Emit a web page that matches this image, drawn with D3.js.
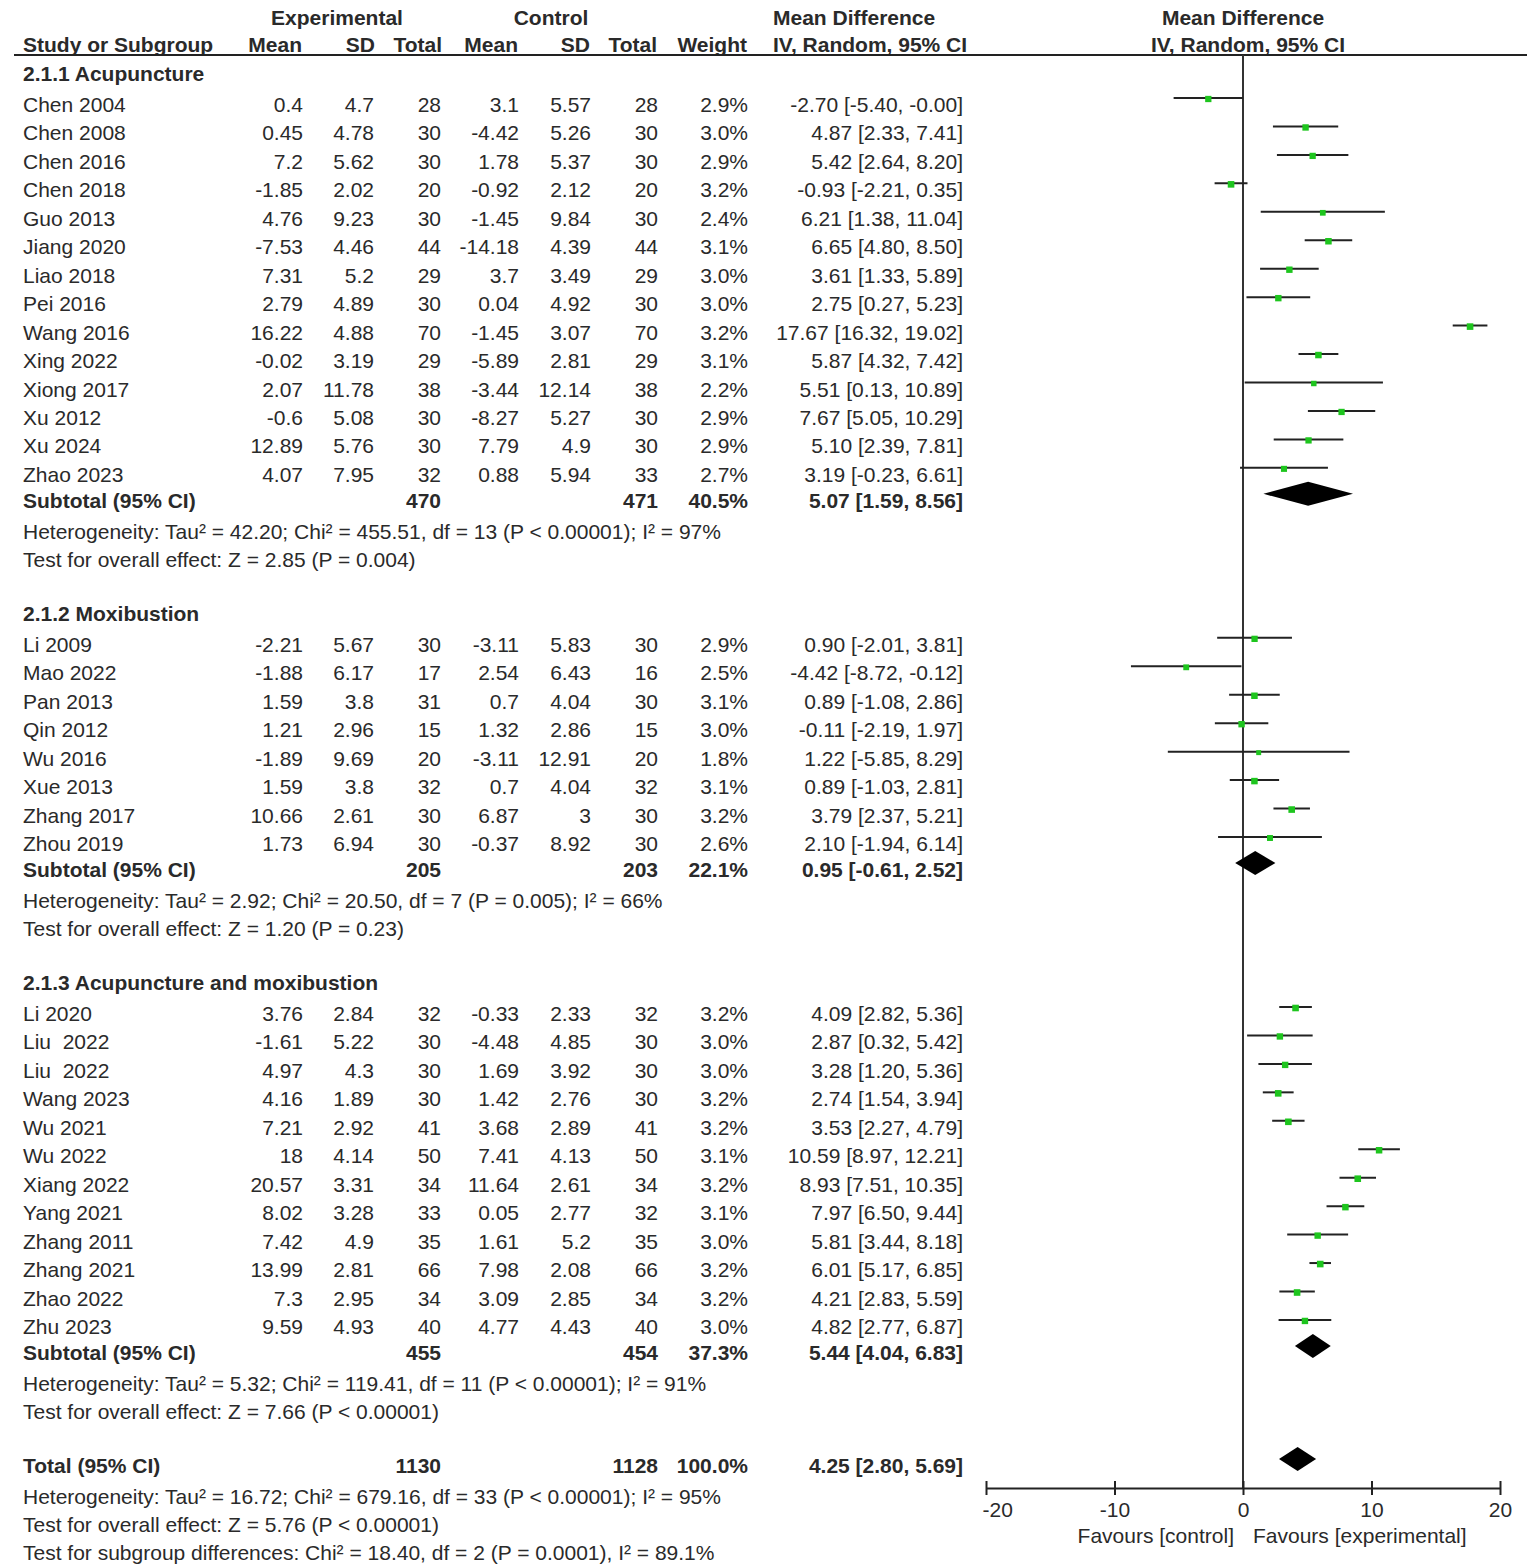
<!DOCTYPE html>
<html>
<head>
<meta charset="utf-8">
<script src="https://cdn.jsdelivr.net/npm/d3@7"></script>
<style>
  body { margin: 0; background: #fff; }
  svg text { font-family: Arial, "Liberation Sans", sans-serif; font-size: 21px; fill: #2a2a2a; white-space: pre; }
  svg text.b { font-weight: bold; }
</style>
</head>
<body>
<svg id="chart" width="1535" height="1568"></svg>
<script>
// study, exp mean, exp sd, exp n, ctl mean, ctl sd, ctl n, weight %, MD, lower, upper
var acupuncture = [
  ['Chen 2004', 0.4, 4.7, 28, 3.1, 5.57, 28, 2.9, -2.70, -5.40, -0.00],
  ['Chen 2008', 0.45, 4.78, 30, -4.42, 5.26, 30, 3.0, 4.87, 2.33, 7.41],
  ['Chen 2016', 7.2, 5.62, 30, 1.78, 5.37, 30, 2.9, 5.42, 2.64, 8.20],
  ['Chen 2018', -1.85, 2.02, 20, -0.92, 2.12, 20, 3.2, -0.93, -2.21, 0.35],
  ['Guo 2013', 4.76, 9.23, 30, -1.45, 9.84, 30, 2.4, 6.21, 1.38, 11.04],
  ['Jiang 2020', -7.53, 4.46, 44, -14.18, 4.39, 44, 3.1, 6.65, 4.80, 8.50],
  ['Liao 2018', 7.31, 5.2, 29, 3.7, 3.49, 29, 3.0, 3.61, 1.33, 5.89],
  ['Pei 2016', 2.79, 4.89, 30, 0.04, 4.92, 30, 3.0, 2.75, 0.27, 5.23],
  ['Wang 2016', 16.22, 4.88, 70, -1.45, 3.07, 70, 3.2, 17.67, 16.32, 19.02],
  ['Xing 2022', -0.02, 3.19, 29, -5.89, 2.81, 29, 3.1, 5.87, 4.32, 7.42],
  ['Xiong 2017', 2.07, 11.78, 38, -3.44, 12.14, 38, 2.2, 5.51, 0.13, 10.89],
  ['Xu 2012', -0.6, 5.08, 30, -8.27, 5.27, 30, 2.9, 7.67, 5.05, 10.29],
  ['Xu 2024', 12.89, 5.76, 30, 7.79, 4.9, 30, 2.9, 5.10, 2.39, 7.81],
  ['Zhao 2023', 4.07, 7.95, 32, 0.88, 5.94, 33, 2.7, 3.19, -0.23, 6.61]
];

var moxibustion = [
  ['Li 2009', -2.21, 5.67, 30, -3.11, 5.83, 30, 2.9, 0.90, -2.01, 3.81],
  ['Mao 2022', -1.88, 6.17, 17, 2.54, 6.43, 16, 2.5, -4.42, -8.72, -0.12],
  ['Pan 2013', 1.59, 3.8, 31, 0.7, 4.04, 30, 3.1, 0.89, -1.08, 2.86],
  ['Qin 2012', 1.21, 2.96, 15, 1.32, 2.86, 15, 3.0, -0.11, -2.19, 1.97],
  ['Wu 2016', -1.89, 9.69, 20, -3.11, 12.91, 20, 1.8, 1.22, -5.85, 8.29],
  ['Xue 2013', 1.59, 3.8, 32, 0.7, 4.04, 32, 3.1, 0.89, -1.03, 2.81],
  ['Zhang 2017', 10.66, 2.61, 30, 6.87, 3, 30, 3.2, 3.79, 2.37, 5.21],
  ['Zhou 2019', 1.73, 6.94, 30, -0.37, 8.92, 30, 2.6, 2.10, -1.94, 6.14]
];

var combined = [
  ['Li 2020', 3.76, 2.84, 32, -0.33, 2.33, 32, 3.2, 4.09, 2.82, 5.36],
  ['Liu  2022', -1.61, 5.22, 30, -4.48, 4.85, 30, 3.0, 2.87, 0.32, 5.42],
  ['Liu  2022', 4.97, 4.3, 30, 1.69, 3.92, 30, 3.0, 3.28, 1.20, 5.36],
  ['Wang 2023', 4.16, 1.89, 30, 1.42, 2.76, 30, 3.2, 2.74, 1.54, 3.94],
  ['Wu 2021', 7.21, 2.92, 41, 3.68, 2.89, 41, 3.2, 3.53, 2.27, 4.79],
  ['Wu 2022', 18, 4.14, 50, 7.41, 4.13, 50, 3.1, 10.59, 8.97, 12.21],
  ['Xiang 2022', 20.57, 3.31, 34, 11.64, 2.61, 34, 3.2, 8.93, 7.51, 10.35],
  ['Yang 2021', 8.02, 3.28, 33, 0.05, 2.77, 32, 3.1, 7.97, 6.50, 9.44],
  ['Zhang 2011', 7.42, 4.9, 35, 1.61, 5.2, 35, 3.0, 5.81, 3.44, 8.18],
  ['Zhang 2021', 13.99, 2.81, 66, 7.98, 2.08, 66, 3.2, 6.01, 5.17, 6.85],
  ['Zhao 2022', 7.3, 2.95, 34, 3.09, 2.85, 34, 3.2, 4.21, 2.83, 5.59],
  ['Zhu 2023', 9.59, 4.93, 40, 4.77, 4.43, 40, 3.0, 4.82, 2.77, 6.87]
];

var groupNames = ['2.1.1 Acupuncture', '2.1.2 Moxibustion', '2.1.3 Acupuncture and moxibustion'];
// exp n, ctl n, weight %, MD, lower, upper
var subtotals = [
  [470, 471, 40.5, 5.07, 1.59, 8.56],
  [205, 203, 22.1, 0.95, -0.61, 2.52],
  [455, 454, 37.3, 5.44, 4.04, 6.83]
];
var heterogeneity = [
  'Heterogeneity: Tau\u00b2 = 42.20; Chi\u00b2 = 455.51, df = 13 (P < 0.00001); I\u00b2 = 97%',
  'Heterogeneity: Tau\u00b2 = 2.92; Chi\u00b2 = 20.50, df = 7 (P = 0.005); I\u00b2 = 66%',
  'Heterogeneity: Tau\u00b2 = 5.32; Chi\u00b2 = 119.41, df = 11 (P < 0.00001); I\u00b2 = 91%'
];
var overallTests = [
  'Test for overall effect: Z = 2.85 (P = 0.004)',
  'Test for overall effect: Z = 1.20 (P = 0.23)',
  'Test for overall effect: Z = 7.66 (P < 0.00001)'
];
var total = [1130, 1128, 100.0, 4.25, 2.80, 5.69];
var totalNotes = [
  'Heterogeneity: Tau\u00b2 = 16.72; Chi\u00b2 = 679.16, df = 33 (P < 0.00001); I\u00b2 = 95%',
  'Test for overall effect: Z = 5.76 (P < 0.00001)',
  'Test for subgroup differences: Chi\u00b2 = 18.40, df = 2 (P = 0.0001), I\u00b2 = 89.1%'
];
var axisTicks = [-20, -10, 0, 10, 20];
var favourLabels = ['Favours [control]', 'Favours [experimental]'];

// right edges of the table columns
var COL = { expMean: 303, expSd: 374, expN: 441, ctlMean: 519, ctlSd: 591, ctlN: 658, weight: 748, ci: 963 };
var STEP = 28.45;
var INK = '#222';

var svg = d3.select('#chart');
var x = d3.scaleLinear().domain([-20, 20]).range([986, 1500]);

function fmt2(v) {
  return (Object.is(v, -0) ? '-' : '') + v.toFixed(2);
}

function ciText(md, lo, hi) {
  return fmt2(md) + ' [' + fmt2(lo) + ', ' + fmt2(hi) + ']';
}

function text(px, py, s, anchor, bold) {
  return svg.append('text')
    .attr('class', bold ? 'b' : null)
    .attr('x', px)
    .attr('y', py)
    .attr('text-anchor', anchor || 'start')
    .text(s);
}

function diamond(md, lo, hi, cy) {
  var pts = [[x(lo), cy], [x(md), cy - 12], [x(hi), cy], [x(md), cy + 12]];
  svg.append('path')
    .attr('d', 'M' + pts.join('L') + 'Z')
    .attr('fill', '#000');
}

function summaryRow(label, s, y) {
  text(23, y, label, 'start', true);
  text(COL.expN, y, s[0], 'end', true);
  text(COL.ctlN, y, s[1], 'end', true);
  text(COL.weight, y, s[2].toFixed(1) + '%', 'end', true);
  text(COL.ci, y, ciText(s[3], s[4], s[5]), 'end', true);
  diamond(s[3], s[4], s[5], y - 14);
}

// headers
text(337, 25, 'Experimental', 'middle', true);
text(551, 25, 'Control', 'middle', true);
text(773, 25, 'Mean Difference', 'start', true);
text(1243, 25, 'Mean Difference', 'middle', true);
text(23, 52, 'Study or Subgroup', 'start', true);
text(302, 52, 'Mean', 'end', true);
text(375, 52, 'SD', 'end', true);
text(442, 52, 'Total', 'end', true);
text(518, 52, 'Mean', 'end', true);
text(590, 52, 'SD', 'end', true);
text(657, 52, 'Total', 'end', true);
text(747, 52, 'Weight', 'end', true);
text(773, 52, 'IV, Random, 95% CI', 'start', true);
text(1248, 52, 'IV, Random, 95% CI', 'middle', true);

svg.append('line')
  .attr('x1', 14).attr('x2', 1527).attr('y1', 55).attr('y2', 55)
  .attr('stroke', INK).attr('stroke-width', 2);

var axisY = 1488;
svg.append('line')
  .attr('x1', x(0)).attr('x2', x(0)).attr('y1', 55).attr('y2', axisY)
  .attr('stroke', '#333').attr('stroke-width', 2);

var size = d3.scaleSqrt().domain([0, 3.2]).range([0, 6.6]);

var y = 81;
[acupuncture, moxibustion, combined].forEach(function (studies, gi) {
  text(23, y, groupNames[gi], 'start', true);
  y += 31;
  studies.forEach(function (d, i) {
    var by = y + i * STEP;
    text(23, by, d[0]);
    text(COL.expMean, by, d[1], 'end');
    text(COL.expSd, by, d[2], 'end');
    text(COL.expN, by, d[3], 'end');
    text(COL.ctlMean, by, d[4], 'end');
    text(COL.ctlSd, by, d[5], 'end');
    text(COL.ctlN, by, d[6], 'end');
    text(COL.weight, by, d[7].toFixed(1) + '%', 'end');
    text(COL.ci, by, ciText(d[8], d[9], d[10]), 'end');

    svg.append('line')
      .attr('x1', x(d[9])).attr('x2', x(d[10]))
      .attr('y1', by - 14).attr('y2', by - 14)
      .attr('stroke', INK).attr('stroke-width', 2);
    var s = size(d[7]);
    svg.append('rect')
      .attr('x', x(d[8]) - s / 2).attr('y', by - 13 - s / 2)
      .attr('width', s).attr('height', s)
      .attr('fill', '#1ec51e');
  });
  y += (studies.length - 1) * STEP + 26;
  summaryRow('Subtotal (95% CI)', subtotals[gi], y);
  y += 31;
  text(23, y, heterogeneity[gi]);
  y += 28;
  text(23, y, overallTests[gi]);
  y += 54;
});

summaryRow('Total (95% CI)', total, y);
y += 31;
totalNotes.forEach(function (s, i) {
  text(23, y + i * 28, s);
});

// axis
var ax = svg.append('g')
  .attr('transform', 'translate(0,' + axisY + ')')
  .call(d3.axisBottom(x).tickValues(axisTicks).tickSizeOuter(0));
ax.select('.domain').attr('stroke', INK).attr('stroke-width', 2);
ax.selectAll('.tick line').attr('y1', -7).attr('y2', 7).attr('stroke', INK).attr('stroke-width', 2);
ax.selectAll('.tick text')
  .attr('y', 29).attr('dy', null)
  .style('font-size', '21px').style('font-family', 'Arial, "Liberation Sans", sans-serif')
  .attr('fill', '#2a2a2a')
  .text(function (d) { return d < 0 ? '-' + Math.abs(d) : d; });
// the leftmost label sits inside the plot edge
ax.selectAll('.tick text').filter(function (d) { return d === -20; })
  .attr('text-anchor', 'start').attr('x', -4);

text(x(0) - 9, 1543, favourLabels[0], 'end');
text(x(0) + 10, 1543, favourLabels[1], 'start');
</script>
</body>
</html>
